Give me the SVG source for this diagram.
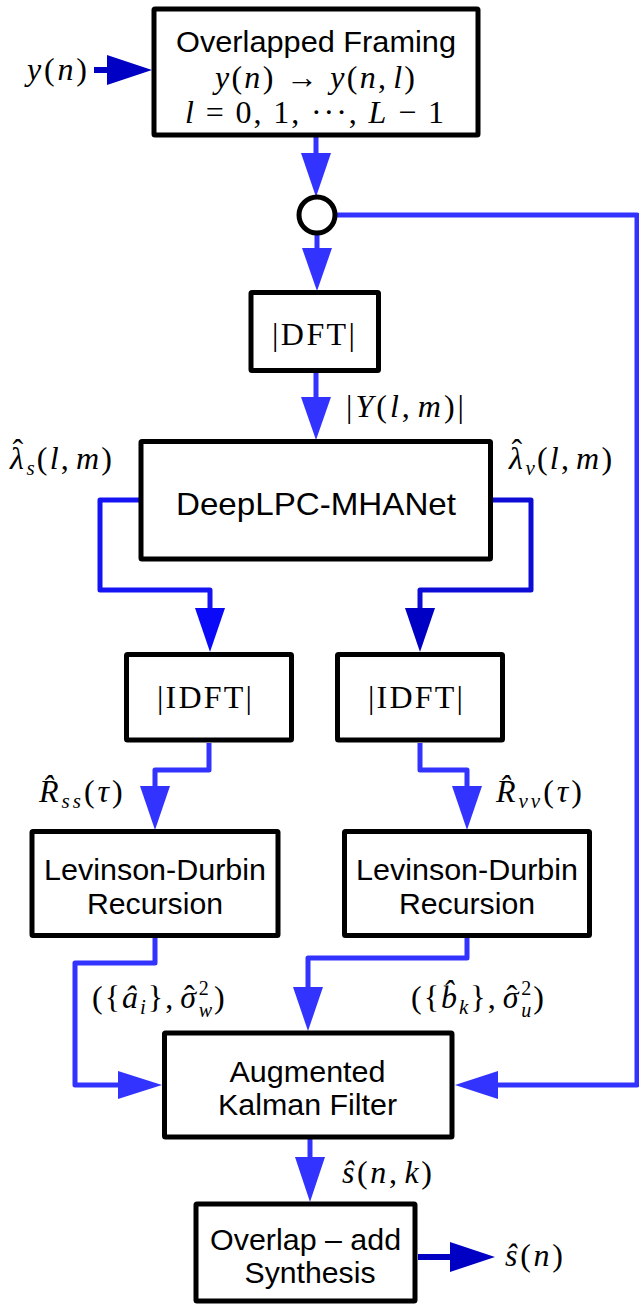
<svg xmlns="http://www.w3.org/2000/svg" width="639" height="1305" viewBox="0 0 639 1305">
<style>
.box{fill:#fff;stroke:#000;stroke-width:5;stroke-linejoin:round}
.t{font-family:"Liberation Sans",Arial,sans-serif;font-size:30px;fill:#000;text-anchor:middle}
.m{font-family:"Liberation Serif","Times New Roman",serif;font-size:32px;fill:#000}
.i{font-style:italic}
.s{font-size:21px}
.s2{font-size:20px}
.c{fill:none;stroke:#3333ff;stroke-width:5;stroke-linejoin:round}
.h{fill:#3333ff}
.cl{fill:none;stroke:#1414f5;stroke-width:5;stroke-linejoin:round}
.hl{fill:#0a0af8}
.cr{fill:none;stroke:#0c0cd6;stroke-width:5;stroke-linejoin:round}
.hd{fill:#0000c4}
.cd{fill:none;stroke:#0000c4;stroke-width:6}
</style>

<g id="connectors">
  <line class="cd" x1="94" y1="70" x2="110" y2="70"/>
  <polygon class="hd" points="107,55 152,70 107,85"/>
  <line class="c" x1="316" y1="137" x2="316" y2="156"/>
  <polygon class="h" points="301,153 331,153 316,197"/>
  <polyline class="c" points="335,215 637,215 637,1085 496,1085"/>
  <polygon class="h" points="498,1071 498,1099 455,1085"/>
  <line class="c" x1="317" y1="233" x2="317" y2="250"/>
  <polygon class="h" points="302,248 332,248 317,291"/>
  <line class="c" x1="316" y1="373" x2="316" y2="399"/>
  <polygon class="h" points="301,397 331,397 316,440"/>
  <polyline class="cl" points="139,500 100,500 100,590 210,590 210,610"/>
  <polygon class="hl" points="195,608 225,608 210,652"/>
  <polyline class="cr" points="492,500 531,500 531,590 420,590 420,610"/>
  <polygon class="hd" points="405,608 435,608 420,652"/>
  <polyline class="c" points="209,743 209,770 155,770 155,788"/>
  <polygon class="h" points="140,786 170,786 155,830"/>
  <polyline class="c" points="420,743 420,770 467,770 467,788"/>
  <polygon class="h" points="452,786 482,786 467,830"/>
  <polyline class="c" points="155,938 155,963 75,963 75,1085 120,1085"/>
  <polygon class="h" points="118,1071 118,1099 162,1085"/>
  <polyline class="c" points="467,938 467,958 308,958 308,989"/>
  <polygon class="h" points="293,987 323,987 308,1031"/>
  <line class="c" x1="310" y1="1139" x2="310" y2="1159"/>
  <polygon class="h" points="295,1157 325,1157 310,1202"/>
  <line class="cd" x1="418" y1="1257" x2="453" y2="1257"/>
  <polygon class="hd" points="450,1242 495,1257 450,1272"/>
</g>

<g id="framing">
  <rect class="box" x="154" y="9" width="324" height="126" rx="1"/>
  <text class="t" x="316" y="52" textLength="280" lengthAdjust="spacingAndGlyphs">Overlapped Framing</text>
  <text class="m" x="215" y="88" textLength="200"><tspan class="i">y</tspan>(<tspan class="i">n</tspan>) → <tspan class="i">y</tspan>(<tspan class="i">n</tspan>,<tspan class="i" dx="5">l</tspan>)</text>
  <text class="m" x="185" y="123" textLength="259"><tspan class="i">l</tspan> = 0, 1, ···, <tspan class="i">L</tspan> − 1</text>
</g>

<g id="split">
  <circle cx="317" cy="215" r="18" fill="#fff" stroke="#000" stroke-width="5"/>
</g>

<g id="dft">
  <rect class="box" x="251" y="292.5" width="127.5" height="78" rx="1"/>
  <text class="m" x="272" y="345" textLength="83">|DFT|</text>
</g>

<g id="deeplpc">
  <rect class="box" x="141" y="441.5" width="349.5" height="117.5" rx="1"/>
  <text class="t" x="316" y="515" style="font-size:32px" textLength="280" lengthAdjust="spacingAndGlyphs">DeepLPC-MHANet</text>
</g>

<g id="idft-s">
  <rect class="box" x="126.5" y="654.5" width="165" height="85.5" rx="1"/>
  <text class="m" x="157" y="708" textLength="95">|IDFT|</text>
</g>

<g id="idft-v">
  <rect class="box" x="337.5" y="654.5" width="165" height="85.5" rx="1"/>
  <text class="m" x="368" y="708" textLength="95">|IDFT|</text>
</g>

<g id="ld-s">
  <rect class="box" x="32" y="831.5" width="246" height="104" rx="1"/>
  <text class="t" x="155" y="880" textLength="222" lengthAdjust="spacingAndGlyphs">Levinson-Durbin</text>
  <text class="t" x="155" y="914" textLength="136" lengthAdjust="spacingAndGlyphs">Recursion</text>
</g>

<g id="ld-v">
  <rect class="box" x="344.5" y="831.5" width="245" height="104" rx="1"/>
  <text class="t" x="467" y="880" textLength="222" lengthAdjust="spacingAndGlyphs">Levinson-Durbin</text>
  <text class="t" x="467" y="914" textLength="136" lengthAdjust="spacingAndGlyphs">Recursion</text>
</g>

<g id="kalman">
  <rect class="box" x="164.5" y="1033" width="287.5" height="104" rx="1"/>
  <text class="t" x="307.5" y="1082" textLength="156" lengthAdjust="spacingAndGlyphs">Augmented</text>
  <text class="t" x="307.5" y="1115" textLength="179" lengthAdjust="spacingAndGlyphs">Kalman Filter</text>
</g>

<g id="ola">
  <rect class="box" x="196" y="1204" width="219" height="97" rx="1"/>
  <text class="t" x="305.6" y="1250" textLength="191" lengthAdjust="spacingAndGlyphs">Overlap – add</text>
  <text class="t" x="310" y="1283" textLength="131" lengthAdjust="spacingAndGlyphs">Synthesis</text>
</g>

<g id="labels">
  <text class="m" x="27" y="80" textLength="60"><tspan class="i">y</tspan>(<tspan class="i">n</tspan>)</text>
  <text class="m" x="346" y="417" textLength="118">|<tspan class="i">Y</tspan>(<tspan class="i">l</tspan>,<tspan class="i" dx="5">m</tspan>)|</text>
  <text class="m" x="10" y="469" style="letter-spacing:2.2px"><tspan class="i">λ</tspan><tspan dx="-13.5" dy="-8">ˆ</tspan><tspan class="i s" dx="1" dy="14">s</tspan><tspan dy="-6">(</tspan><tspan class="i">l</tspan>,<tspan class="i" dx="5">m</tspan>)</text>
  <text class="m" x="509" y="469" style="letter-spacing:2.2px"><tspan class="i">λ</tspan><tspan dx="-13.5" dy="-8">ˆ</tspan><tspan class="i s" dx="1" dy="14">v</tspan><tspan dy="-6">(</tspan><tspan class="i">l</tspan>,<tspan class="i" dx="5">m</tspan>)</text>
  <text class="m" x="39" y="802" style="letter-spacing:3px"><tspan class="i">R̂</tspan><tspan class="i s" dy="6">ss</tspan><tspan dy="-6">(</tspan><tspan class="i">τ</tspan>)</text>
  <text class="m" x="496" y="802" style="letter-spacing:3px"><tspan class="i">R̂</tspan><tspan class="i s" dy="6">vv</tspan><tspan dy="-6">(</tspan><tspan class="i">τ</tspan>)</text>
  <text class="m" x="92" y="1008" style="letter-spacing:2px">({<tspan class="i">â</tspan><tspan class="i s" dy="6">i</tspan><tspan dy="-6">},</tspan><tspan class="i" dx="5">σ</tspan><tspan dx="-14" dy="-1">ˆ</tspan><tspan class="s2" dx="2" dy="-12">2</tspan><tspan class="i s2" dx="-12" dy="22">w</tspan><tspan dy="-9">)</tspan></text>
  <text class="m" x="411" y="1008" style="letter-spacing:2px">({<tspan class="i">b̂</tspan><tspan class="i s" dy="6">k</tspan><tspan dy="-6">},</tspan><tspan class="i" dx="5">σ</tspan><tspan dx="-14" dy="-1">ˆ</tspan><tspan class="s2" dx="2" dy="-12">2</tspan><tspan class="i s2" dx="-12" dy="22">u</tspan><tspan dy="-9">)</tspan></text>
  <text class="m" x="342" y="1183" textLength="90"><tspan class="i">ŝ</tspan>(<tspan class="i">n</tspan>,<tspan class="i" dx="5">k</tspan>)</text>
  <text class="m" x="505" y="1266" textLength="58"><tspan class="i">ŝ</tspan>(<tspan class="i">n</tspan>)</text>
</g>
</svg>
